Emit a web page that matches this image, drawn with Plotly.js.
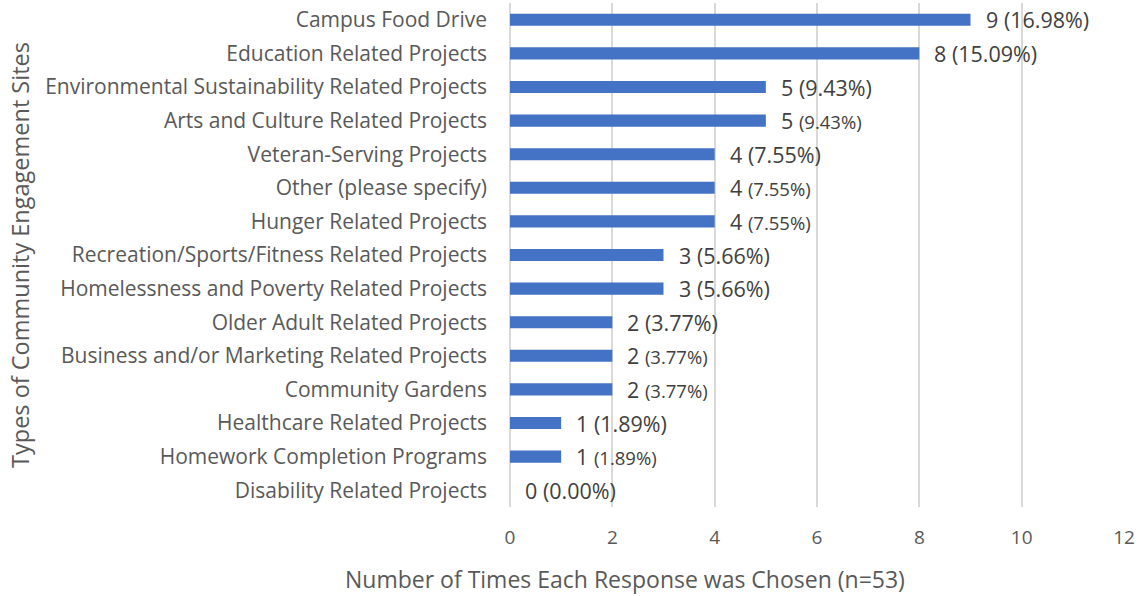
<!DOCTYPE html>
<html>
<head>
<meta charset="utf-8">
<script src="https://cdn.plot.ly/plotly-3.0.1.min.js"></script>
<style>html,body{margin:0;padding:0;background:#fff;}#chart{width:1145px;height:596px;}</style>
</head>
<body>
<div id="chart"></div>
<script>
const categories = [
  "Campus Food Drive",
  "Education Related Projects",
  "Environmental Sustainability Related Projects",
  "Arts and Culture Related Projects",
  "Veteran-Serving Projects",
  "Other (please specify)",
  "Hunger Related Projects",
  "Recreation/Sports/Fitness Related Projects",
  "Homelessness and Poverty Related Projects",
  "Older Adult Related Projects",
  "Business and/or Marketing Related Projects",
  "Community Gardens",
  "Healthcare Related Projects",
  "Homework Completion Programs",
  "Disability Related Projects"
];
const counts = [9, 8, 5, 5, 4, 4, 4, 3, 3, 2, 2, 2, 1, 1, 0];
const percents = ["16.98%", "15.09%", "9.43%", "9.43%", "7.55%", "7.55%", "7.55%", "5.66%", "5.66%", "3.77%", "3.77%", "3.77%", "1.89%", "1.89%", "0.00%"];
const smallPct = [false, false, false, true, false, true, true, false, false, false, true, true, false, true, false];
const xTicks = [0, 2, 4, 6, 8, 10, 12];
const xTitle = "Number of Times Each Response was Chosen (n=53)";
const yTitle = "Types of Community Engagement Sites";

const FONT = "'Open Sans', sans-serif";

const trace = {
  type: "bar",
  orientation: "h",
  y: categories,
  x: counts,
  marker: {color: "#4472C4"},
  width: 0.36,
  hoverinfo: "none"
};

const annotations = categories.map((c, i) => ({
  x: counts[i],
  y: c,
  xref: "x",
  yref: "y",
  xanchor: "left",
  yanchor: "middle",
  xshift: 13,
  showarrow: false,
  text: smallPct[i]
    ? counts[i] + " <span style='font-size:18.5px'>(" + percents[i] + ")</span>"
    : counts[i] + " (" + percents[i] + ")",
  font: {family: FONT, size: 21.5, color: "#404040"}
}));

annotations.push({
  text: xTitle,
  xref: "paper", yref: "paper",
  x: 0.187, y: 0,
  xanchor: "center", yanchor: "middle",
  yshift: -72,
  showarrow: false,
  font: {family: FONT, size: 23, color: "#595959"}
});

const layout = {
  width: 1145,
  height: 596,
  margin: {l: 510, r: 21, t: 3, b: 89},
  paper_bgcolor: "#ffffff",
  plot_bgcolor: "#ffffff",
  showlegend: false,
  font: {family: FONT, color: "#595959"},
  xaxis: {
    range: [0, 12],
    tickvals: xTicks,
    ticktext: xTicks.map(String),
    showgrid: true,
    gridcolor: "#d9d9d9",
    gridwidth: 2,
    zeroline: true,
    zerolinecolor: "#d9d9d9",
    zerolinewidth: 2,
    showline: false,
    ticks: "",
    ticklabelstandoff: 17,
    tickfont: {family: FONT, size: 19, color: "#595959"},
    fixedrange: true
  },
  yaxis: {
    type: "category",
    autorange: "reversed",
    showgrid: false,
    zeroline: false,
    showline: false,
    ticks: "",
    ticklabelstandoff: 22,
    tickfont: {family: FONT, size: 21, color: "#595959"},
    title: {text: yTitle, font: {family: FONT, size: 23.5, color: "#595959"}, standoff: 8},
    automargin: false,
    fixedrange: true
  },
  annotations: annotations
};

Plotly.newPlot("chart", [trace], layout, {displayModeBar: false, staticPlot: true});
</script>
</body>
</html>
